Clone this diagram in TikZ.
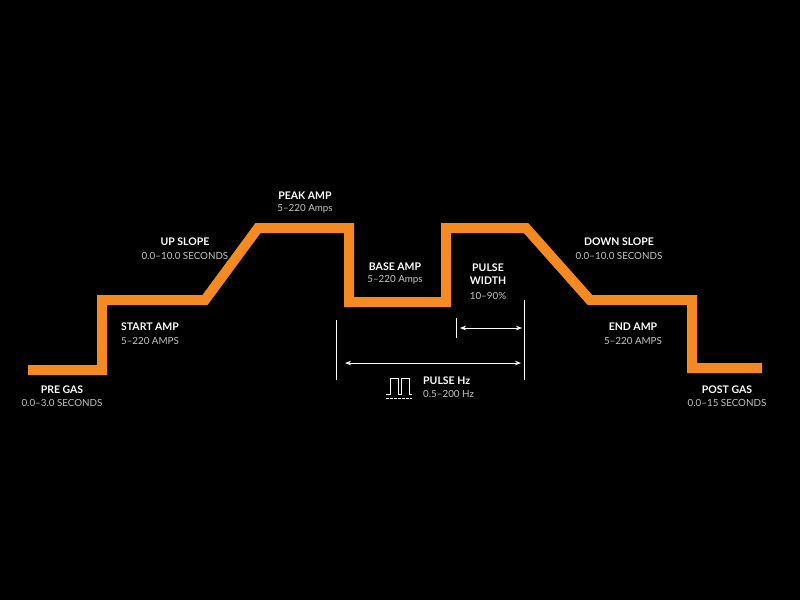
\documentclass[tikz,border=0pt]{standalone}
\usepackage{fontspec}
\setmainfont{Lato}
\usetikzlibrary{arrows.meta}
\definecolor{org}{HTML}{F58A23}
\definecolor{sub}{HTML}{C4C4C4}
\begin{document}
\begin{tikzpicture}[x=1pt,y=-1pt,
 lab/.style={text=white,font=\bfseries\fontsize{10.5}{13}\selectfont,align=center,inner sep=0},
 sl/.style={text=sub,font=\fontsize{9.8}{11}\selectfont,align=center,inner sep=0},
 dim/.style={white,line width=1pt},
 arr/.style={white,line width=0.9pt,{Stealth[length=6pt,width=4.5pt]}-{Stealth[length=6pt,width=4.5pt]}}]
\fill[black] (0,0) rectangle (800,600);
\useasboundingbox (0,0) rectangle (800,600);
\draw[org,line width=10pt,line join=miter] (28,370) coordinate(s) -- (102,370) -- (102,300) -- (205,300) -- (258,228) -- (349,228) -- (349,302) -- (446,302) -- (446,228) -- (526,228) -- (590,300) -- (692,300) -- (692,368) -- (762,368) coordinate(e);
\node[lab] (l1) at (62,390) {PRE GAS}; \node[sl] (s1) at (62,403) {0.0–3.0 SECONDS};
\node[lab] (l2) at (150,327) {START AMP}; \node[sl] (s2) at (150,341) {5–220 AMPS};
\node[lab] (l3) at (185,242) {UP SLOPE}; \node[sl] (s3) at (185,256) {0.0–10.0 SECONDS};
\node[lab] (l4) at (305,196) {PEAK AMP}; \node[sl] (s4) at (305,209) {5–220 Amps};
\node[lab] (l5) at (395,267) {BASE AMP}; \node[sl] (s5) at (395,280) {5–220 Amps};
\node[lab] (l6) at (488,274) {PULSE\\WIDTH}; \node[sl] (s6) at (488,296) {10–90\%};
\node[lab] (l7) at (619,242) {DOWN SLOPE}; \node[sl] (s7) at (619,256) {0.0–10.0 SECONDS};
\node[lab] (l8) at (633,327) {END AMP}; \node[sl] (s8) at (633,341) {5–220 AMPS};
\node[lab] (l9) at (727,390) {POST GAS}; \node[sl] (s9) at (727,403) {0.0–15 SECONDS};
\node[lab,anchor=west] (l10) at (423,381) {PULSE Hz}; \node[sl,anchor=west] (s10) at (423,394) {0.5–200 Hz};
\coordinate (a1) at (336,320); \coordinate (a2) at (336,380);
\coordinate (b1) at (524,300); \coordinate (b2) at (524,380);
\coordinate (c1) at (456,318); \coordinate (c2) at (456,338);
\draw[dim] (a1)--(a2); \draw[dim] (b1)--(b2); \draw[dim] (c1)--(c2);
\coordinate (p1) at (460,328); \coordinate (p2) at (522,328);
\coordinate (q1) at (345,363); \coordinate (q2) at (521,363);
\draw[arr] (p1)--(p2); \draw[arr] (q1)--(q2);
\draw[white,line width=1pt] (386,394)--(390,394)--(390,378)--(398,378)--(398,394)--(401,394)--(401,378)--(409,378)--(409,394)--(412,394);
\draw[white,line width=1pt,dash pattern=on 2.5pt off 1.5pt] (386,398)--(412,398);
\end{tikzpicture}
\end{document}
